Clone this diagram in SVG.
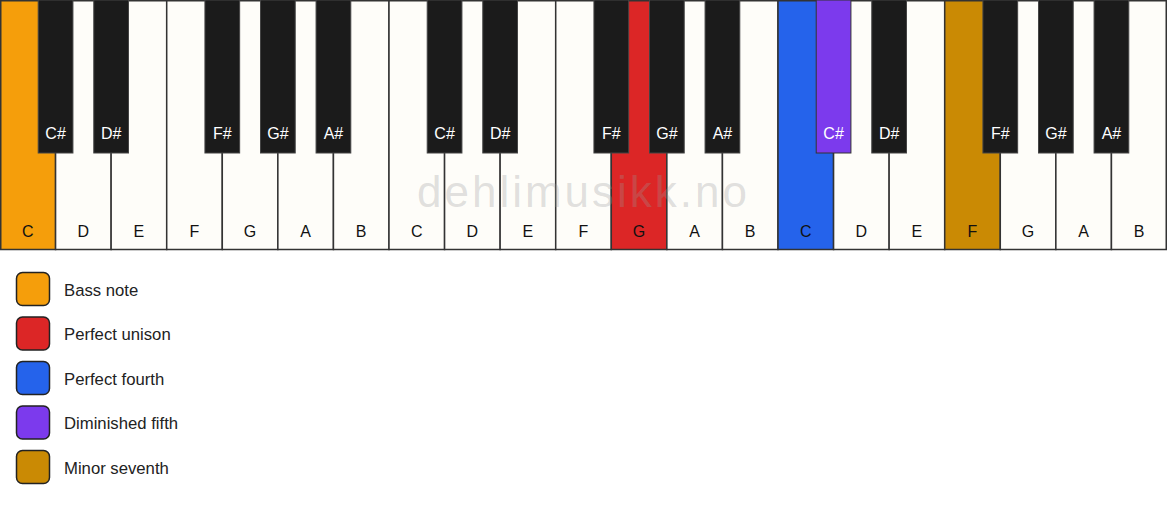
<svg xmlns="http://www.w3.org/2000/svg" width="1167" height="506" viewBox="0 0 1167 506">
<style>
.w{fill:#fefdf9;stroke:#333;stroke-width:1.5}
.b{fill:#1b1b1b;stroke:#444;stroke-width:1}
.lw{font-family:"Liberation Sans",Arial,sans-serif;font-size:16px;fill:#111;text-anchor:middle}
.lb{font-family:"Liberation Sans",Arial,sans-serif;font-size:16px;fill:#fff;text-anchor:middle}
.lg{font-family:"Liberation Sans",Arial,sans-serif;font-size:16.7px;fill:#222}
.sw{stroke:#222;stroke-width:1.5}
.wm{font-family:"Liberation Sans",Arial,sans-serif;font-size:44px;letter-spacing:3px;fill:#999;fill-opacity:0.3;text-anchor:middle}
</style>
<rect width="1167" height="506" fill="#fff"/>
<g id="white-keys">
<g id="w0"><rect class="w" x="0.75" y="0.75" width="54.82" height="248.75" style="fill:#f59e0b"/><text class="lw" x="27.79" y="236.5">C</text></g>
<g id="w1"><rect class="w" x="55.57" y="0.75" width="55.57" height="248.75"/><text class="lw" x="83.36" y="236.5">D</text></g>
<g id="w2"><rect class="w" x="111.14" y="0.75" width="55.57" height="248.75"/><text class="lw" x="138.93" y="236.5">E</text></g>
<g id="w3"><rect class="w" x="166.71" y="0.75" width="55.57" height="248.75"/><text class="lw" x="194.5" y="236.5">F</text></g>
<g id="w4"><rect class="w" x="222.29" y="0.75" width="55.57" height="248.75"/><text class="lw" x="250.07" y="236.5">G</text></g>
<g id="w5"><rect class="w" x="277.86" y="0.75" width="55.57" height="248.75"/><text class="lw" x="305.64" y="236.5">A</text></g>
<g id="w6"><rect class="w" x="333.43" y="0.75" width="55.57" height="248.75"/><text class="lw" x="361.21" y="236.5">B</text></g>
<g id="w7"><rect class="w" x="389" y="0.75" width="55.57" height="248.75"/><text class="lw" x="416.79" y="236.5">C</text></g>
<g id="w8"><rect class="w" x="444.57" y="0.75" width="55.57" height="248.75"/><text class="lw" x="472.36" y="236.5">D</text></g>
<g id="w9"><rect class="w" x="500.14" y="0.75" width="55.57" height="248.75"/><text class="lw" x="527.93" y="236.5">E</text></g>
<g id="w10"><rect class="w" x="555.71" y="0.75" width="55.57" height="248.75"/><text class="lw" x="583.5" y="236.5">F</text></g>
<g id="w11"><rect class="w" x="611.29" y="0.75" width="55.57" height="248.75" style="fill:#dc2626"/><text class="lw" x="639.07" y="236.5">G</text></g>
<g id="w12"><rect class="w" x="666.86" y="0.75" width="55.57" height="248.75"/><text class="lw" x="694.64" y="236.5">A</text></g>
<g id="w13"><rect class="w" x="722.43" y="0.75" width="55.57" height="248.75"/><text class="lw" x="750.21" y="236.5">B</text></g>
<g id="w14"><rect class="w" x="778" y="0.75" width="55.57" height="248.75" style="fill:#2563eb"/><text class="lw" x="805.79" y="236.5">C</text></g>
<g id="w15"><rect class="w" x="833.57" y="0.75" width="55.57" height="248.75"/><text class="lw" x="861.36" y="236.5">D</text></g>
<g id="w16"><rect class="w" x="889.14" y="0.75" width="55.57" height="248.75"/><text class="lw" x="916.93" y="236.5">E</text></g>
<g id="w17"><rect class="w" x="944.71" y="0.75" width="55.57" height="248.75" style="fill:#ca8a04"/><text class="lw" x="972.5" y="236.5">F</text></g>
<g id="w18"><rect class="w" x="1000.29" y="0.75" width="55.57" height="248.75"/><text class="lw" x="1028.07" y="236.5">G</text></g>
<g id="w19"><rect class="w" x="1055.86" y="0.75" width="55.57" height="248.75"/><text class="lw" x="1083.64" y="236.5">A</text></g>
<g id="w20"><rect class="w" x="1111.43" y="0.75" width="54.82" height="248.75"/><text class="lw" x="1139.21" y="236.5">B</text></g>
</g>
<text class="wm" x="583.5" y="207">dehlimusikk.no</text>
<g id="black-keys">
<g id="b1"><rect class="b" x="38.21" y="0" width="34.72" height="153"/><text class="lb" x="55.57" y="138.5">C#</text></g>
<g id="b2"><rect class="b" x="93.78" y="0" width="34.72" height="153"/><text class="lb" x="111.14" y="138.5">D#</text></g>
<g id="b4"><rect class="b" x="204.93" y="0" width="34.72" height="153"/><text class="lb" x="222.29" y="138.5">F#</text></g>
<g id="b5"><rect class="b" x="260.5" y="0" width="34.72" height="153"/><text class="lb" x="277.86" y="138.5">G#</text></g>
<g id="b6"><rect class="b" x="316.07" y="0" width="34.72" height="153"/><text class="lb" x="333.43" y="138.5">A#</text></g>
<g id="b8"><rect class="b" x="427.21" y="0" width="34.72" height="153"/><text class="lb" x="444.57" y="138.5">C#</text></g>
<g id="b9"><rect class="b" x="482.78" y="0" width="34.72" height="153"/><text class="lb" x="500.14" y="138.5">D#</text></g>
<g id="b11"><rect class="b" x="593.93" y="0" width="34.72" height="153"/><text class="lb" x="611.29" y="138.5">F#</text></g>
<g id="b12"><rect class="b" x="649.5" y="0" width="34.72" height="153"/><text class="lb" x="666.86" y="138.5">G#</text></g>
<g id="b13"><rect class="b" x="705.07" y="0" width="34.72" height="153"/><text class="lb" x="722.43" y="138.5">A#</text></g>
<g id="b15"><rect class="b" x="816.21" y="0" width="34.72" height="153" style="fill:#7c3aed;stroke:#333"/><text class="lb" x="833.57" y="138.5">C#</text></g>
<g id="b16"><rect class="b" x="871.78" y="0" width="34.72" height="153"/><text class="lb" x="889.14" y="138.5">D#</text></g>
<g id="b18"><rect class="b" x="982.93" y="0" width="34.72" height="153"/><text class="lb" x="1000.29" y="138.5">F#</text></g>
<g id="b19"><rect class="b" x="1038.5" y="0" width="34.72" height="153"/><text class="lb" x="1055.86" y="138.5">G#</text></g>
<g id="b20"><rect class="b" x="1094.07" y="0" width="34.72" height="153"/><text class="lb" x="1111.43" y="138.5">A#</text></g>
</g>
<g id="legend">
<g id="leg-bass"><rect class="sw" x="16.5" y="272.5" width="33" height="33" rx="6" fill="#f59e0b"/><text class="lg" x="64" y="295.5">Bass note</text></g>
<g id="leg-unison"><rect class="sw" x="16.5" y="317" width="33" height="33" rx="6" fill="#dc2626"/><text class="lg" x="64" y="340">Perfect unison</text></g>
<g id="leg-fourth"><rect class="sw" x="16.5" y="361.5" width="33" height="33" rx="6" fill="#2563eb"/><text class="lg" x="64" y="384.5">Perfect fourth</text></g>
<g id="leg-dim5"><rect class="sw" x="16.5" y="406" width="33" height="33" rx="6" fill="#7c3aed"/><text class="lg" x="64" y="429">Diminished fifth</text></g>
<g id="leg-min7"><rect class="sw" x="16.5" y="450.5" width="33" height="33" rx="6" fill="#ca8a04"/><text class="lg" x="64" y="473.5">Minor seventh</text></g>
</g>
</svg>
